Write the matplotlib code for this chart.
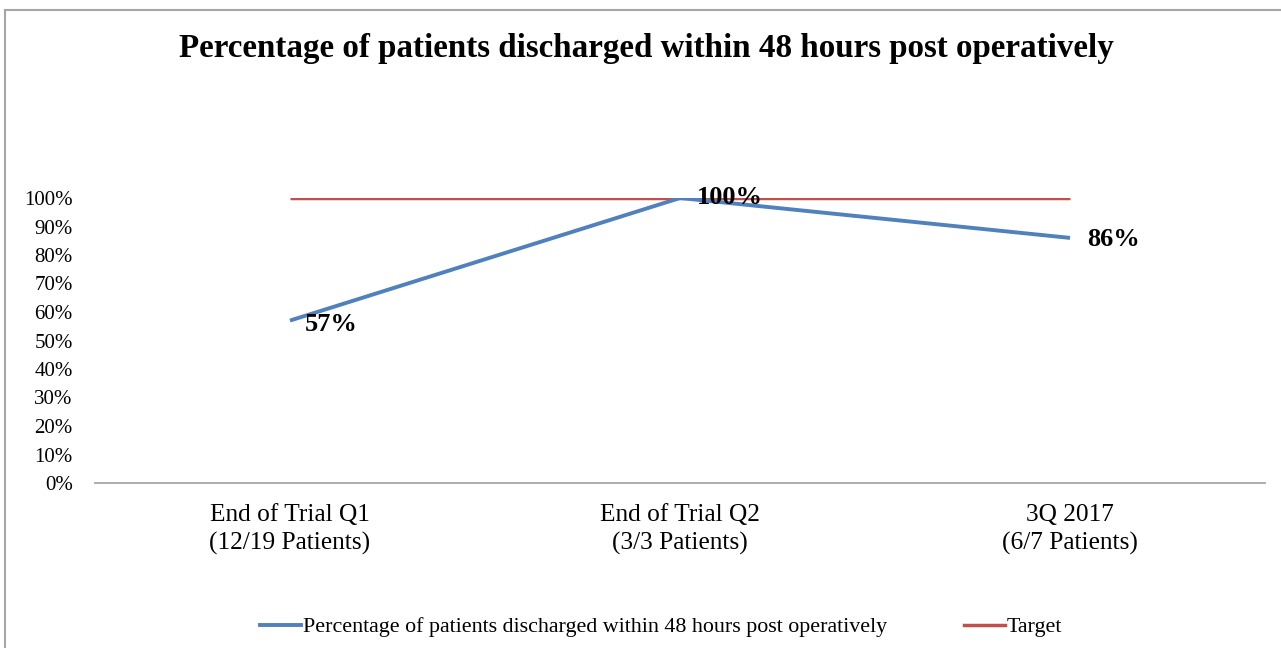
import matplotlib
matplotlib.use("Agg")
import matplotlib.pyplot as plt
from matplotlib.lines import Line2D
from matplotlib.ticker import FuncFormatter

categories = ["End of Trial Q1\n(12/19 Patients)", "End of Trial Q2\n(3/3 Patients)", "3Q 2017\n(6/7 Patients)"]
pct_values = [0.57, 1.00, 0.86]
target_values = [1.00, 1.00, 1.00]
value_labels = ["57%", "100%", "86%"]
series_name = "Percentage of patients discharged within 48 hours post operatively"
target_name = "Target"
title = "Percentage of patients discharged within 48 hours post operatively"

plt.rcParams['font.family'] = ['Liberation Serif', 'DejaVu Serif']

W, H = 1281, 648
fig = plt.figure(figsize=(W/100, H/100), dpi=100)

# border (top and left visible)
fig.add_artist(Line2D([5/W, 5/W], [0, 1 - 10/H], color='#a6a6a6', lw=1.5, transform=fig.transFigure))
fig.add_artist(Line2D([5/W, 1], [1 - 10/H, 1 - 10/H], color='#a6a6a6', lw=1.5, transform=fig.transFigure))

ax_l, ax_r = 95, 1265
y0, y100 = 483, 198
ax = fig.add_axes([ax_l/W, 1 - y0/H, (ax_r-ax_l)/W, (y0-y100)/H])
x = list(range(len(categories)))
ax.plot(x, target_values, color='#c0504d', lw=2.5, solid_capstyle='butt')
ax.plot(x, pct_values, color='#4f81bd', lw=2.8, solid_capstyle='butt')
ax.set_xlim(-0.5, len(categories) - 0.5)
ax.set_ylim(0, 1.0)
ax.set_yticks([i/10 for i in range(11)])
ax.yaxis.set_major_formatter(FuncFormatter(lambda v, p: f"{round(v*100)}%"))
ax.set_xticks(x)
ax.set_xticklabels(categories, fontsize=18.3, linespacing=1.32)
for lab in ax.get_yticklabels():
    lab.set_fontsize(15)
ax.tick_params(axis='both', length=0)
ax.tick_params(axis='x', pad=15)
ax.tick_params(axis='y', pad=16)
for s in ['top', 'right', 'left']:
    ax.spines[s].set_visible(False)
ax.spines['bottom'].set_color('#a6a6a6')
ax.spines['bottom'].set_linewidth(1.3)

offsets = [(11, -3), (12, 0), (12, -1)]
for xi, v, lab, off in zip(x, pct_values, value_labels, offsets):
    ax.annotate(lab, (xi, v), xytext=off, textcoords='offset points',
                fontsize=19, fontweight='bold', ha='left', va='center', clip_on=False)

fig.text(646/W, 1 - 49/H, title, fontsize=23.8, fontweight='bold', ha='center', va='center')

handles = [Line2D([], [], color='#4f81bd', lw=2.8), Line2D([], [], color='#c0504d', lw=2.5)]
fig.legend(handles, [series_name, target_name], loc='center', bbox_to_anchor=(661/W, 1 - 627/H),
           ncol=2, frameon=False, fontsize=15.8, handlelength=1.87, handletextpad=0.1, columnspacing=3.5)

fig.savefig("out.png", dpi=100)
